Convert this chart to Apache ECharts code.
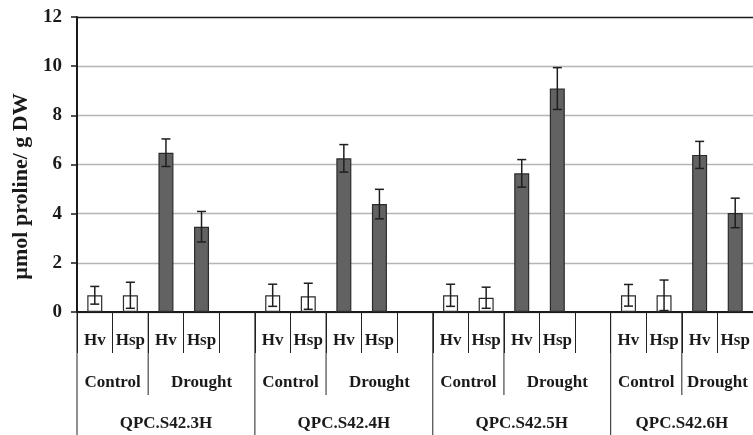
<!DOCTYPE html>
<html>
<head>
<meta charset="utf-8">
<script src="https://cdn.jsdelivr.net/npm/echarts@6/dist/echarts.min.js"></script>
<style>
html,body{margin:0;padding:0;background:#fff;}
#chart{width:753px;height:435px;}
</style>
</head>
<body>
<div id="chart"></div>
<script>
// ---- data ----
const groups = ['QPC.S42.3H', 'QPC.S42.4H', 'QPC.S42.5H', 'QPC.S42.6H'];
const slotsPerGroup = [5, 5, 5, 4];           // category slots in each group (4 bars + spacer)
const conditions = ['Control', 'Drought'];
const conditionSlots = [[2, 3], [2, 3], [2, 3], [2, 2]];
const genotypes = ['Hv', 'Hsp'];

const controlHv     = [0.68, 0.68, 0.68, 0.68];
const controlHsp    = [0.68, 0.64, 0.58, 0.68];
const droughtHv     = [6.48, 6.25, 5.64, 6.39];
const droughtHsp    = [3.47, 4.39, 9.09, 4.03];
const controlHvErr  = [0.36, 0.45, 0.45, 0.44];
const controlHspErr = [0.53, 0.53, 0.43, 0.62];
const droughtHvErr  = [0.56, 0.56, 0.56, 0.55];
const droughtHspErr = [0.62, 0.60, 0.85, 0.60];

const yTicks = { min: 0, max: 12, interval: 2 };
const yName = 'µmol proline/ g DW';

// ---- build category slots ----
const categories = [];
const controlData = [];
const droughtData = [];
const errData = [];
const spanData = [];   // [start, end, 0, level, text]
let idx = 0;
groups.forEach((g, gi) => {
  const start = idx;
  const vals = [controlHv[gi], controlHsp[gi], droughtHv[gi], droughtHsp[gi]];
  const errs = [controlHvErr[gi], controlHspErr[gi], droughtHvErr[gi], droughtHspErr[gi]];
  for (let s = 0; s < slotsPerGroup[gi]; s++) {
    if (s < 4) {
      categories.push(genotypes[s % 2]);
      controlData.push(s < 2 ? vals[s] : '-');
      droughtData.push(s >= 2 ? vals[s] : '-');
      errData.push([idx, vals[s] - errs[s], vals[s] + errs[s]]);
    } else {
      categories.push('');
      controlData.push('-');
      droughtData.push('-');
    }
    idx++;
  }
  let c0 = start;
  conditionSlots[gi].forEach((n, ci) => {
    spanData.push([c0, c0 + n - 1, 0, 2, conditions[ci]]);
    c0 += n;
  });
  spanData.push([start, idx - 1, 0, 3, g]);
});

const FONT = 'Liberation Serif';
const chart = echarts.init(document.getElementById('chart'), null, { renderer: 'canvas' });

const option = {
  animation: false,
  backgroundColor: '#fff',
  grid: { left: 77, top: 17, width: 679, bottom: 123, containLabel: false },
  xAxis: {
    type: 'category',
    data: categories,
    boundaryGap: true,
    axisLine: { lineStyle: { color: '#1a1a1a', width: 2 } },
    axisTick: { show: true, alignWithLabel: false, length: 41, lineStyle: { color: '#222', width: 1 } },
    axisLabel: { interval: 0, margin: 20, fontFamily: FONT, fontWeight: 'bold', fontSize: 17, color: '#1a1a1a' },
    splitLine: { show: false }
  },
  yAxis: {
    type: 'value',
    min: yTicks.min, max: yTicks.max, interval: yTicks.interval,
    name: yName,
    nameLocation: 'middle',
    nameGap: 35,
    nameTextStyle: { fontFamily: FONT, fontWeight: 'bold', fontSize: 22, color: '#1a1a1a', padding: [0, 44, 0, 0] },
    axisLine: { show: true, lineStyle: { color: '#1a1a1a', width: 2 } },
    axisTick: { show: true, inside: false, length: 6, lineStyle: { color: '#1a1a1a', width: 1.5 } },
    axisLabel: { margin: 15, fontFamily: FONT, fontWeight: 'bold', fontSize: 19, color: '#1a1a1a' },
    splitLine: { show: true, lineStyle: { color: ['#b5b5b5','#b5b5b5','#b5b5b5','#b5b5b5','#b5b5b5','#b5b5b5','#1a1a1a'], width: 1.3 } }
  },
  series: [
    {
      name: 'Control', type: 'bar', data: controlData, barWidth: 15, barGap: '-100%',
      itemStyle: { color: '#ffffff', borderColor: '#2b2b2b', borderWidth: 1.2 }
    },
    {
      name: 'Drought', type: 'bar', data: droughtData, barWidth: 15, barGap: '-100%',
      itemStyle: { color: '#626262', borderColor: '#2b2b2b', borderWidth: 1.2 }
    },
    {
      name: 'err', type: 'custom', data: errData, encode: { x: 0, y: [1, 2] }, z: 5,
      renderItem: function (params, api) {
        const lo = api.coord([api.value(0), api.value(1)]);
        const hi = api.coord([api.value(0), api.value(2)]);
        const h = 4.5;
        const st = { stroke: '#1e1e1e', lineWidth: 1.5 };
        return { type: 'group', children: [
          { type: 'line', shape: { x1: lo[0], y1: lo[1], x2: hi[0], y2: hi[1] }, style: st },
          { type: 'line', shape: { x1: lo[0] - h, y1: lo[1], x2: lo[0] + h, y2: lo[1] }, style: st },
          { type: 'line', shape: { x1: hi[0] - h, y1: hi[1], x2: hi[0] + h, y2: hi[1] }, style: st }
        ]};
      }
    },
    {
      name: 'axisTable', type: 'custom', data: spanData, encode: { x: 0, y: 2 }, clip: false, silent: true, z: 6,
      renderItem: function (params, api) {
        const s = api.coord([api.value(0), 0]);
        const e = api.coord([api.value(1), 0]);
        const w = api.size([1, 0])[0];
        const level = api.value(3);
        const text = spanData[params.dataIndex][4];
        const x0 = s[0] - w / 2, x1 = e[0] + w / 2;
        const y0 = s[1];
        const rowY = level === 2 ? 71 : 112;
        const lineLen = level === 2 ? 83 : 140;
        const children = [{
          type: 'text',
          style: { text: text, x: (x0 + x1) / 2, y: y0 + rowY, align: 'center', verticalAlign: 'middle',
                   font: 'bold 17px "' + FONT + '"', fill: '#1a1a1a' }
        }];
        const isGroupStart = level === 3;
        const isInnerCondition = level === 2 && spanData[params.dataIndex][4] !== conditions[0];
        if (isGroupStart || isInnerCondition) {
          children.push({ type: 'line', shape: { x1: x0, y1: y0, x2: x0, y2: y0 + lineLen },
                          style: { stroke: '#222', lineWidth: 1 } });
        }
        return { type: 'group', children: children };
      }
    }
  ]
};
chart.setOption(option);
</script>
</body>
</html>
